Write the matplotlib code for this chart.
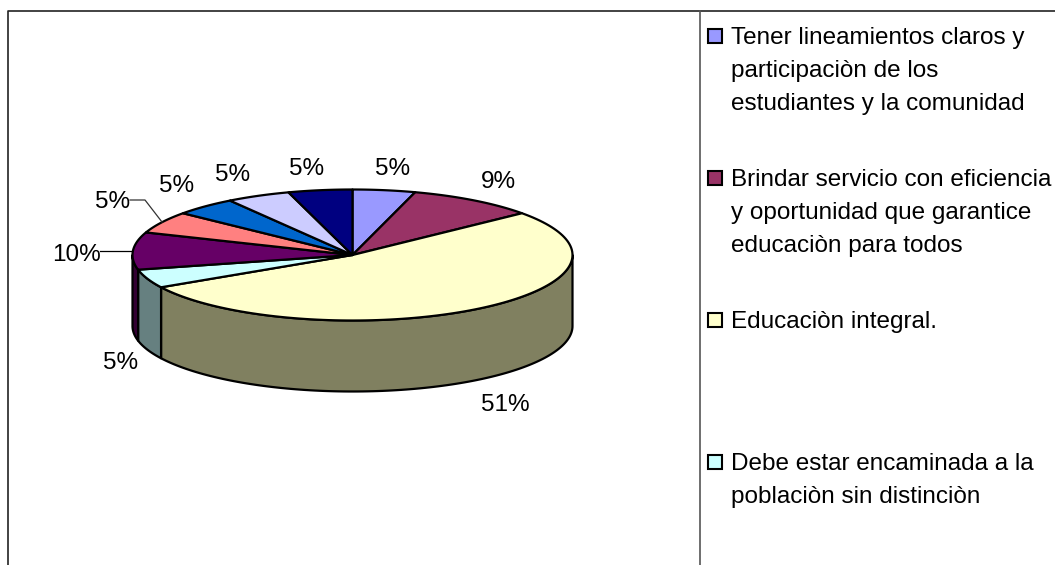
import numpy as np
import matplotlib
matplotlib.use('Agg')
import matplotlib.pyplot as plt
from matplotlib.patches import Rectangle

# --- DATA ---
# slice sizes (printed labels are below)
slices = [4.6, 9.4, 52.8, 4.6, 9.2, 5.4, 4.6, 4.7, 4.7]
pct_labels = ['5%', '9%', '51%', '5%', '10%', '5%', '5%', '5%', '5%']
top_colors = ['#9999FF', '#993366', '#FFFFCC', '#CCFFFF', '#660066',
              '#FF8080', '#0066CC', '#CCCCFF', '#000080']
side_colors = ['#666699', '#662244', '#808060', '#668080', '#330033',
               '#995050', '#004488', '#8888AA', '#000050']
legend_names = ['Tener lineamientos claros y\nparticipaciòn de los\nestudiantes y la comunidad',
                'Brindar servicio con eficiencia\ny oportunidad que garantice\neducaciòn para todos',
                'Educaciòn integral.',
                'Debe estar encaminada a la\npoblaciòn sin distinciòn']

# --- LAYOUT (pixels) ---
CX, CY = 352.5, 255
RX, RY = 220, 65.5
DEPTH = 71
label_xy = [(393, 169), (498, 182), (505, 405), (121, 363), (76, 255),
            (113, 202), (177, 186), (233, 175), (307, 169)]
legend_y = [35.5, 177.5, 319.5, 461.5]

plt.rcParams['font.family'] = ['Liberation Sans', 'DejaVu Sans']
fig = plt.figure(figsize=(10.55, 5.65), dpi=100)
ax = fig.add_axes([0, 0, 1, 1])
ax.set_xlim(0, 1055)
ax.set_ylim(565, 0)
ax.axis('off')


def arc(a0, a1):
    # angles in degrees, clockwise from the top of the pie
    t = np.radians(np.linspace(a0, a1, 120))
    return CX + RX * np.sin(t), CY - RY * np.cos(t)


# chart frame
ax.plot([8, 8, 1055], [565, 11, 11], color='#222222', lw=1.2, zorder=1)
ax.plot([700, 700], [11, 565], color='#555555', lw=1.2, zorder=1)

edges = np.cumsum([0] + slices) / sum(slices) * 360

# side wall, only the front half is visible
for i in range(len(slices)):
    a0 = max(edges[i], 90)
    a1 = min(edges[i + 1], 270)
    if a1 <= a0:
        continue
    x, y = arc(a0, a1)
    ax.fill(np.r_[x, x[::-1]], np.r_[y, y[::-1] + DEPTH],
            facecolor=side_colors[i], edgecolor='black', lw=1.6, zorder=2, joinstyle='round')

# top face
for i in range(len(slices)):
    x, y = arc(edges[i], edges[i + 1])
    ax.fill(np.r_[CX, x], np.r_[CY, y],
            facecolor=top_colors[i], edgecolor='black', lw=1.6, zorder=3, joinstyle='round')

for txt, (lx, ly) in zip(pct_labels, label_xy):
    ax.text(lx, ly, txt, fontsize=17.5, ha='center', va='center', color='black', zorder=5)

# leader lines
ax.plot([100, 132], [251, 251], color='black', lw=0.9, zorder=4)
ax.plot([130, 145, 162], [200, 200, 222], color='#333333', lw=0.9, zorder=4)

# legend
for i, name in enumerate(legend_names):
    ax.add_patch(Rectangle((708, legend_y[i] - 7), 13.5, 14, facecolor=top_colors[i],
                           edgecolor='black', lw=1.5, zorder=4))
    ax.text(731, legend_y[i] - 8.5, name, fontsize=17.5, ha='left', va='top',
            linespacing=1.65, color='black', zorder=5)

fig.savefig('out.png', dpi=100)
